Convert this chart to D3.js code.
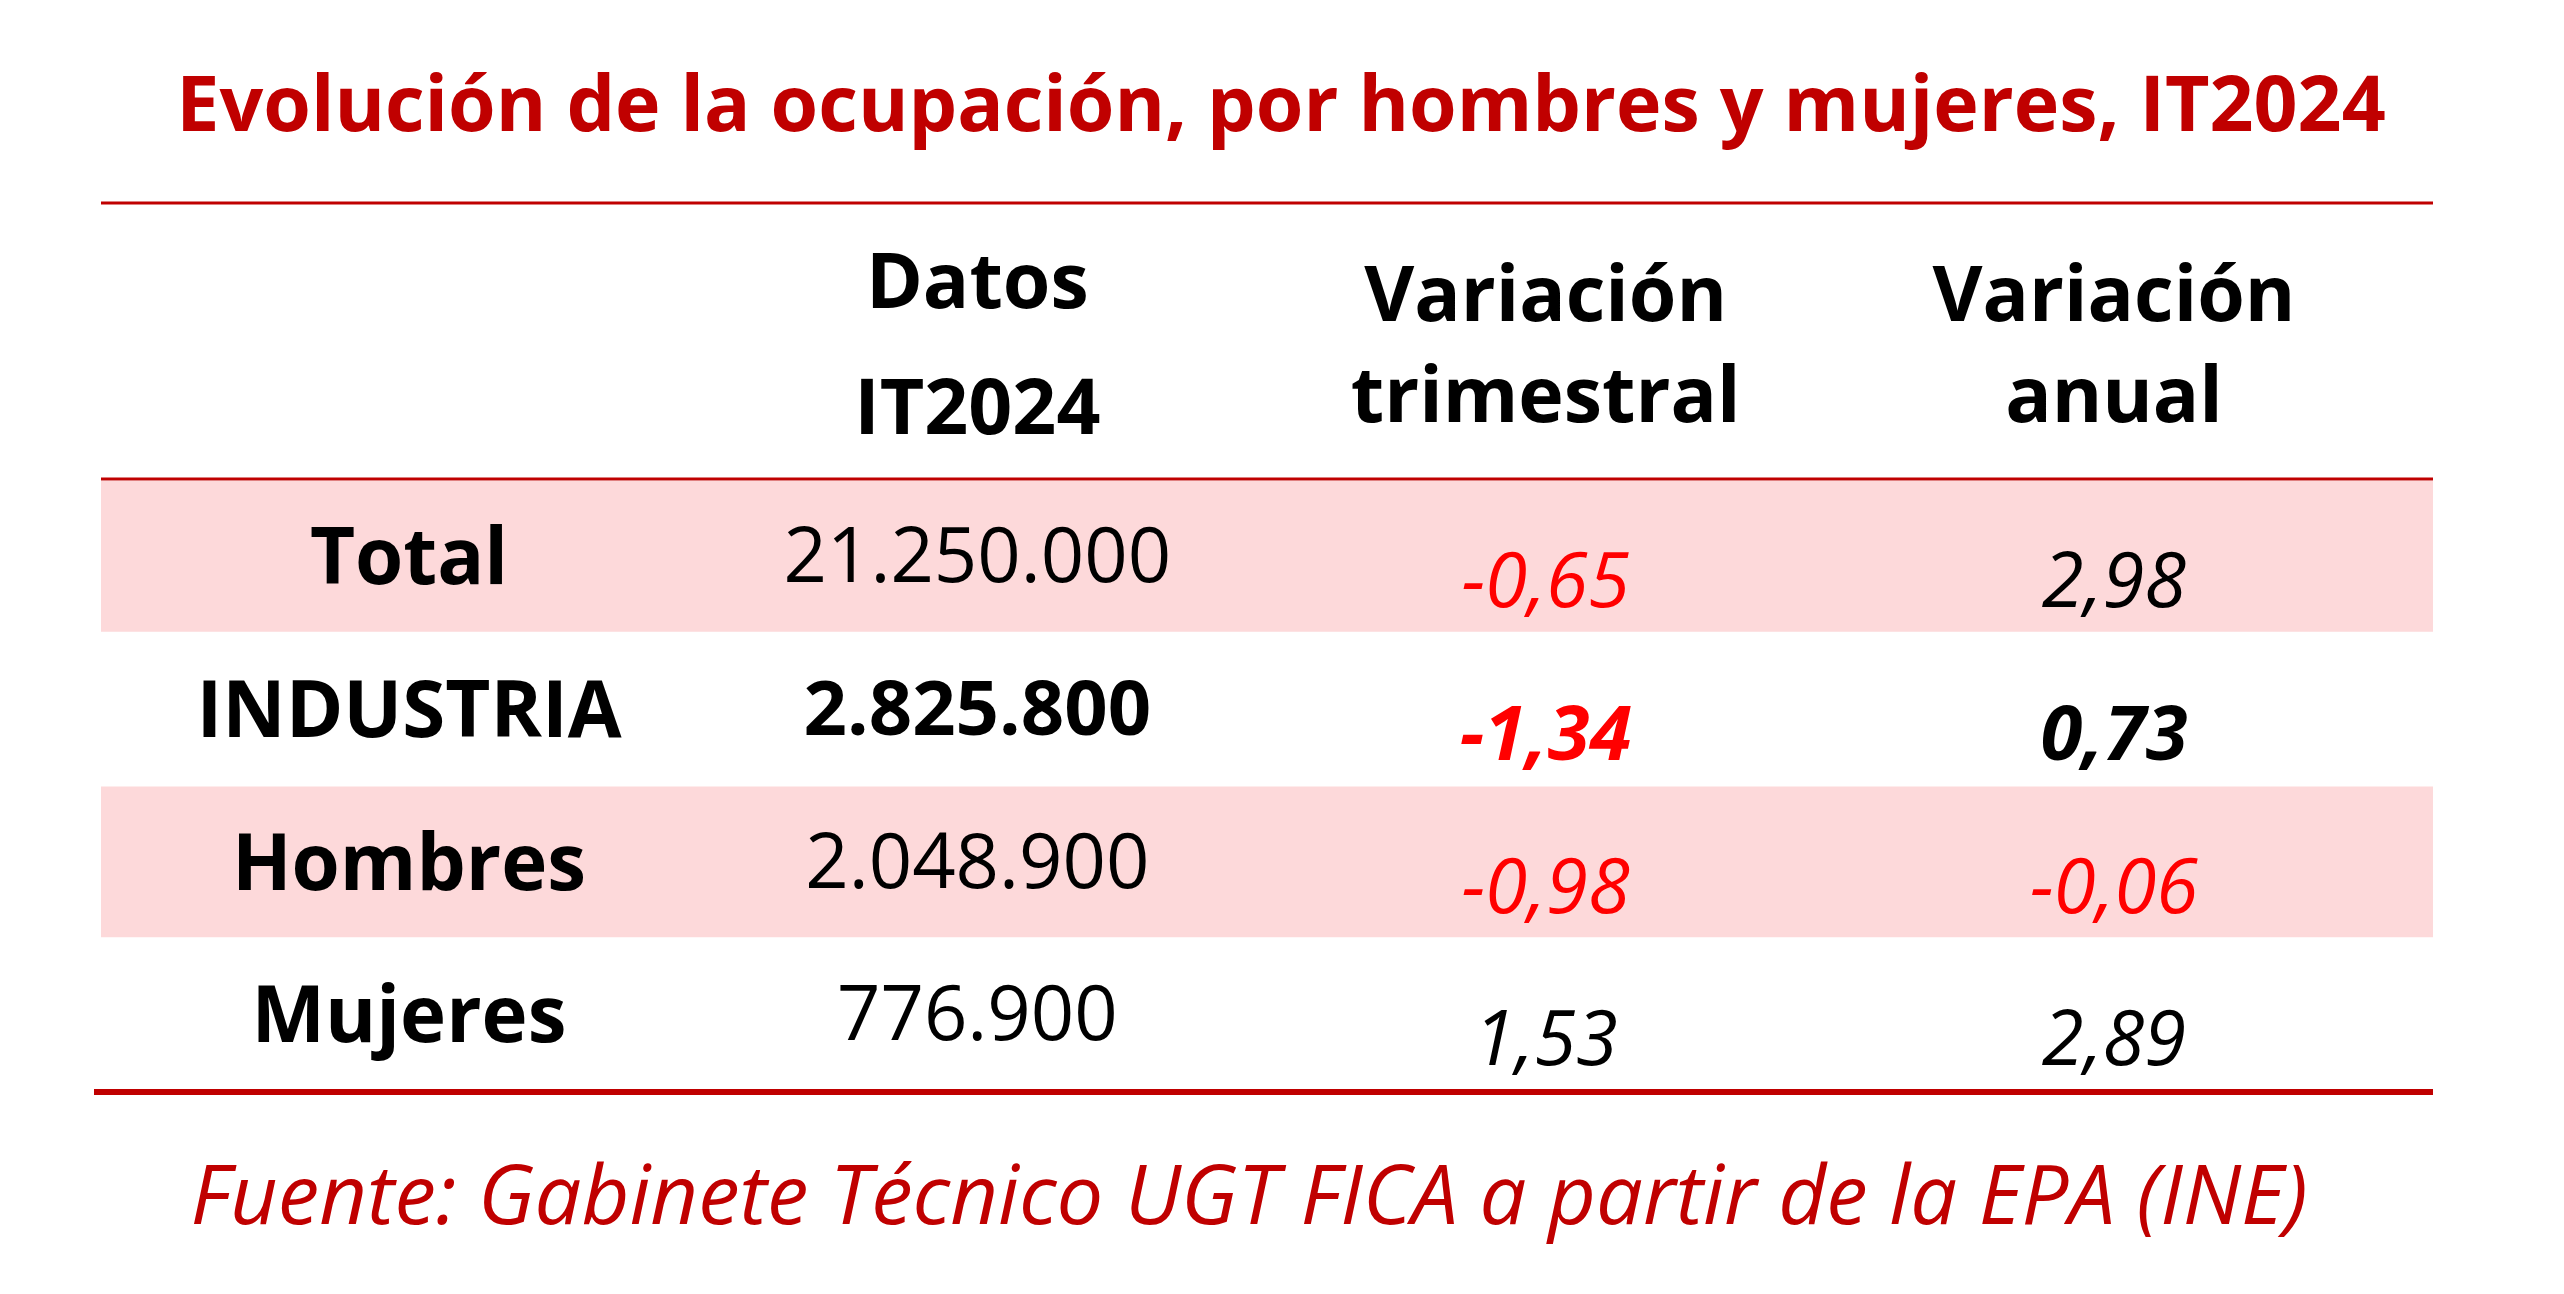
<!DOCTYPE html>
<html><head><meta charset="utf-8">
<script src="https://cdn.jsdelivr.net/npm/d3@7"></script>
<style>body{margin:0;background:#fff}text{font-family:"Open Sans",sans-serif}</style>
</head><body><div id="viz"></div>
<script>
var width = 2564, height = 1294;

var title = "Evolución de la ocupación, por hombres y mujeres, IT2024";
var source = "Fuente: Gabinete Técnico UGT FICA a partir de la EPA (INE)";
var headers = [[""], ["Datos", "IT2024"], ["Variación", "trimestral"], ["Variación", "anual"]];
var rows = ["Total", "INDUSTRIA", "Hombres", "Mujeres"];
var datos = ["21.250.000", "2.825.800", "2.048.900", "776.900"];
var varTrim = [-0.65, -1.34, -0.98, 1.53];
var varAnual = [2.98, 0.73, -0.06, 2.89];
var shaded = [true, false, true, false];

var svg = d3.select("#viz").append("svg")
    .attr("width", width).attr("height", height);

var colX = d3.scalePoint().domain([0, 1, 2, 3]).range([409, 2114]);
var rowY = d3.scaleBand().domain(d3.range(rows.length)).range([479, 1090]);
var fmt = function(v) { return d3.format(".2f")(v).replace(".", ",").replace("−", "-"); };

svg.append("text").attr("x", 1281).attr("y", 131).attr("text-anchor", "middle")
    .style("font-size", "77px").style("font-weight", "bold").style("fill", "#c00000")
    .text(title);

svg.append("line").attr("x1", 101).attr("x2", 2433).attr("y1", 203).attr("y2", 203)
    .style("stroke", "#c00000").style("stroke-width", 3);

headers.forEach(function(h, i) {
  var ys = i == 1 ? [308, 434] : [321, 422];
  h.forEach(function(t, j) {
    svg.append("text").attr("x", colX(i)).attr("y", ys[j]).attr("text-anchor", "middle")
        .style("font-size", "77px").style("font-weight", "bold").text(t);
  });
});

svg.append("line").attr("x1", 101).attr("x2", 2433).attr("y1", 479).attr("y2", 479)
    .style("stroke", "#c00000").style("stroke-width", 3);

rows.forEach(function(r, i) {
  var y0 = rowY(i), bw = rowY.bandwidth();
  if (shaded[i]) svg.append("rect").attr("x", 101).attr("y", y0 + 2).attr("width", 2332)
      .attr("height", bw - 2).style("fill", "#fdd9da");
  var bold = i == 1;
  svg.append("text").attr("x", colX(0)).attr("y", y0 + 105).attr("text-anchor", "middle")
      .style("font-size", "78px").style("font-weight", "bold").text(r);
  svg.append("text").attr("x", colX(1)).attr("y", y0 + 103).attr("text-anchor", "middle")
      .style("font-size", "76px").style("font-weight", bold ? "bold" : "normal").text(datos[i]);
  [varTrim[i], varAnual[i]].forEach(function(v, k) {
    svg.append("text").attr("x", colX(2 + k)).attr("y", y0 + 128).attr("text-anchor", "middle")
        .style("font-size", "76px").style("font-style", "italic")
        .style("font-weight", bold ? "bold" : "normal")
        .style("fill", v < 0 ? "#ff0000" : "#000").text(fmt(v));
  });
});

svg.append("line").attr("x1", 94).attr("x2", 2433).attr("y1", 1092).attr("y2", 1092)
    .style("stroke", "#c00000").style("stroke-width", 6);

svg.append("text").attr("x", 1249).attr("y", 1224).attr("text-anchor", "middle")
    .style("font-size", "83px").style("font-style", "italic").style("fill", "#c00000")
    .text(source);
</script></body></html>
